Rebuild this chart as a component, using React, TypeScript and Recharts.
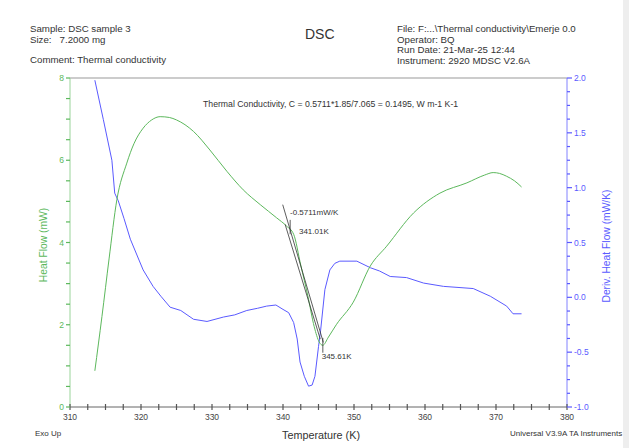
import React from "react"
import { ComposedChart, Line, XAxis, YAxis, ReferenceLine, ReferenceDot } from "recharts"

// Heat flow (mW) vs temperature (K)
const hfTemp = [313.5, 314.5, 315.5, 316.6, 318.0, 319.0, 320.3, 321.5, 322.7, 324.0, 325.0, 327.4, 329.7, 332.1, 334.4, 336.8, 339.1, 340.5, 341.5, 342.5, 343.5, 344.4, 345.1, 345.6, 346.4, 347.5, 349.9, 352.3, 354.6, 358.4, 362.1, 365.9, 368.4, 369.6, 370.5, 371.5, 372.6, 373.6]
const hfValue = [0.88, 2.2, 3.6, 5.04, 5.93, 6.4, 6.78, 6.98, 7.06, 7.04, 6.98, 6.7, 6.25, 5.73, 5.28, 4.92, 4.6, 4.4, 4.2, 3.45, 2.7, 1.95, 1.58, 1.5, 1.7, 2.0, 2.55, 3.43, 3.91, 4.72, 5.2, 5.45, 5.64, 5.7, 5.68, 5.61, 5.5, 5.35]

// Deriv. heat flow (mW/K)
const dhfTemp = [313.5, 314.7, 315.9, 316.3, 316.8, 317.6, 318.5, 320.3, 321.7, 322.8, 324.1, 325.6, 327.4, 329.3, 331.6, 333.2, 334.9, 336.4, 337.7, 339.0, 340.0, 340.8, 341.5, 342.0, 342.4, 343.0, 343.6, 344.1, 344.5, 345.0, 345.3, 345.9, 346.6, 347.3, 348.0, 350.4, 352.3, 353.6, 355.1, 357.4, 359.8, 362.6, 366.8, 369.2, 371.5, 372.4, 373.6]
const dhfValue = [1.98, 1.62, 1.25, 0.95, 0.88, 0.72, 0.53, 0.25, 0.1, 0.01, -0.09, -0.12, -0.2, -0.22, -0.18, -0.16, -0.12, -0.1, -0.08, -0.07, -0.11, -0.14, -0.23, -0.38, -0.59, -0.72, -0.81, -0.8, -0.72, -0.45, -0.3, 0.07, 0.25, 0.31, 0.33, 0.33, 0.27, 0.24, 0.19, 0.18, 0.13, 0.1, 0.08, 0.01, -0.08, -0.15, -0.15]

// tangent construction on the transition
const tangentA = [{ t: 339.96, hf: 4.92 }, { t: 345.68, hf: 1.57 }]
const tangentB = [{ t: 340.3, hf: 4.44 }, { t: 345.25, hf: 1.65 }]
const markOnset = [{ t: 341.01, hf: 4.55 }, { t: 341.01, hf: 4.2 }]
const markEnd = [{ t: 345.61, hf: 1.68 }, { t: 345.61, hf: 1.32 }]
const pointLabels = [
  { t: 340.99, hf: 4.73, text: "-0.5711mW/K" },
  { t: 342.25, hf: 4.27, text: "341.01K" },
  { t: 345.45, hf: 1.24, text: "345.61K" },
]

const xMajor = [310, 320, 330, 340, 350, 360, 370, 380]
const leftMajor = [0, 2, 4, 6, 8]
const rightMajor = [-1.0, -0.5, 0.0, 0.5, 1.0, 1.5, 2.0]

const hfData = hfTemp.map((t, i) => ({ t, hf: hfValue[i] }))
const dhfData = dhfTemp.map((t, i) => ({ t, dhf: dhfValue[i] }))

function subdivide(majors: number[], n: number) {
  const out: number[] = []
  for (let i = 0; i < majors.length - 1; i++) {
    const step = (majors[i + 1] - majors[i]) / n
    for (let k = 0; k < n; k++) out.push(+(majors[i] + k * step).toFixed(4))
  }
  out.push(majors[majors.length - 1])
  return out
}

const GREEN = "#5cb85c"
const GREEN_AXIS = "#9ad49a"
const BLUE = "#5a5aff"
const BLUE_AXIS = "#8282ff"
const FONT = "'Liberation Sans', Arial, sans-serif"

const isMajor = (v: number, list: number[]) => list.some((m) => Math.abs(m - v) < 1e-6)

// tick mark + label drawn together; x/y is where the tick meets the axis
function LeftTick({ x, y, payload }: any) {
  const major = isMajor(payload.value, leftMajor)
  return (
    <g>
      <path d={`M${x},${y}h-4`} stroke={GREEN} strokeWidth={1.2} fill="none" />
      {major && (
        <text x={x - 6} y={y} dy={3} textAnchor="end" fontSize={8.5} fill={GREEN} fontFamily={FONT}>
          {payload.value}
        </text>
      )}
    </g>
  )
}

function RightTick({ x, y, payload }: any) {
  const major = isMajor(payload.value, rightMajor)
  return (
    <g>
      <path d={`M${x},${y}h${major ? 5 : 3}`} stroke={BLUE} strokeWidth={1.2} fill="none" />
      {major && (
        <text x={x + 7} y={y} dy={3} textAnchor="start" fontSize={8.5} fill={BLUE} fontFamily={FONT}>
          {payload.value.toFixed(1)}
        </text>
      )}
    </g>
  )
}

function BottomTick({ x, y, payload }: any) {
  const major = isMajor(payload.value, xMajor)
  return (
    <g>
      <path d={`M${x},${y - 3}v6`} stroke="#555" strokeWidth={1.2} fill="none" />
      {major && (
        <text x={x} y={y} dy={13} textAnchor="middle" fontSize={8.5} fill="#444" fontFamily={FONT}>
          {payload.value}
        </text>
      )}
    </g>
  )
}

const txt = (style: React.CSSProperties): React.CSSProperties => ({
  position: "absolute",
  fontFamily: FONT,
  fontSize: 9.7,
  color: "#333",
  whiteSpace: "nowrap",
  lineHeight: "10.5px",
  ...style,
})

export default function App() {
  return (
    <div style={{ position: "absolute", left: 0, top: 0, width: 629, height: 448, background: "#fff", overflow: "hidden" }}>
      <div style={{ position: "absolute", left: 623, top: 0, width: 6, height: 448, background: "#eeeeee" }} />
      <div style={txt({ left: 30, top: 24 })}>
        Sample: DSC sample 3<br />
        Size:&nbsp;&nbsp;&nbsp;7.2000 mg
      </div>
      <div style={txt({ left: 30, top: 55 })}>Comment: Thermal conductivity</div>
      <div style={txt({ left: 305, top: 26, fontSize: 14, lineHeight: "16px" })}>DSC</div>
      <div style={txt({ left: 397, top: 24 })}>
        File: F:...\Thermal conductivity\Emerje 0.0<br />
        Operator: BQ<br />
        Run Date: 21-Mar-25 12:44<br />
        Instrument: 2920 MDSC V2.6A
      </div>
      <div style={txt({ left: 203, top: 99, fontSize: 8.7 })}>
        Thermal Conductivity, C = 0.5711*1.85/7.065 = 0.1495, W m-1 K-1
      </div>
      <div style={txt({ left: 35, top: 429, fontSize: 8 })}>Exo Up</div>
      <div style={txt({ left: 321, top: 429, fontSize: 10.8, lineHeight: "12px", transform: "translateX(-50%)" })}>Temperature (K)</div>
      <div style={txt({ left: 510, top: 429, fontSize: 8 })}>Universal V3.9A TA Instruments</div>
      <div style={txt({ left: 44, top: 245, color: GREEN, fontSize: 10.3, lineHeight: "12px", transform: "translate(-50%, -50%) rotate(-90deg)" })}>
        Heat Flow (mW)
      </div>
      <div style={txt({ left: 607, top: 246, color: BLUE, fontSize: 10.3, lineHeight: "12px", transform: "translate(-50%, -50%) rotate(-90deg)" })}>
        Deriv. Heat Flow (mW/K)
      </div>

      <ComposedChart width={629} height={448} margin={{ top: 78, right: 0, bottom: 0, left: 0 }} style={{ position: "absolute", left: 0, top: 0 }}>
        <XAxis
          dataKey="t"
          type="number"
          domain={[310, 380]}
          ticks={subdivide(xMajor, 4)}
          interval={0}
          tickSize={0}
          tickMargin={0}
          tickLine={false}
          tick={<BottomTick />}
          axisLine={{ stroke: "#666" }}
          height={41}
          allowDataOverflow
        />
        <YAxis
          yAxisId="left"
          orientation="left"
          type="number"
          domain={[0, 8]}
          ticks={subdivide(leftMajor, 4)}
          interval={0}
          tickSize={0}
          tickMargin={0}
          tickLine={false}
          tick={<LeftTick />}
          axisLine={{ stroke: GREEN_AXIS }}
          width={70}
          allowDataOverflow
        />
        <YAxis
          yAxisId="right"
          orientation="right"
          type="number"
          domain={[-1, 2]}
          ticks={subdivide(rightMajor, 4)}
          interval={0}
          tickSize={0}
          tickMargin={0}
          tickLine={false}
          tick={<RightTick />}
          axisLine={{ stroke: BLUE_AXIS }}
          width={62}
          allowDataOverflow
        />
        <ReferenceLine yAxisId="left" y={8} stroke="#999" />
        <Line yAxisId="right" data={dhfData} dataKey="dhf" type="linear" stroke={BLUE} strokeWidth={1} dot={false} isAnimationActive={false} />
        <Line yAxisId="left" data={hfData} dataKey="hf" type="monotone" stroke={GREEN} strokeWidth={1} dot={false} isAnimationActive={false} />
        <Line yAxisId="left" data={tangentA} dataKey="hf" type="linear" stroke="#333" strokeWidth={0.8} dot={false} isAnimationActive={false} />
        <Line yAxisId="left" data={tangentB} dataKey="hf" type="linear" stroke="#333" strokeWidth={0.8} dot={false} isAnimationActive={false} />
        <Line yAxisId="left" data={markOnset} dataKey="hf" type="linear" stroke="#333" strokeWidth={0.8} dot={false} isAnimationActive={false} />
        <Line yAxisId="left" data={markEnd} dataKey="hf" type="linear" stroke="#333" strokeWidth={0.8} dot={false} isAnimationActive={false} />
        {pointLabels.map((p) => (
          <ReferenceDot
            key={p.text}
            yAxisId="left"
            x={p.t}
            y={p.hf}
            r={0}
            stroke="none"
            label={{ value: p.text, position: "right", offset: 0, fontSize: 8, fill: "#333", fontFamily: FONT }}
          />
        ))}
      </ComposedChart>
    </div>
  )
}
